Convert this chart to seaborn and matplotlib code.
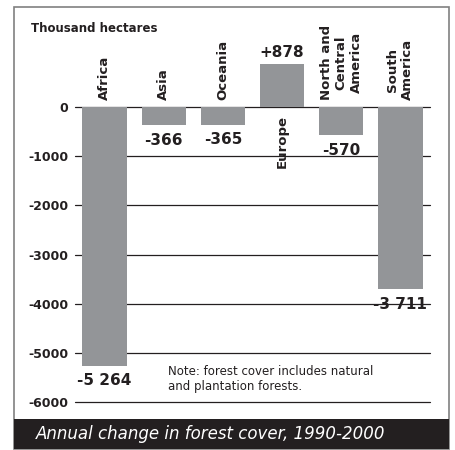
import matplotlib
matplotlib.use("Agg")
import matplotlib.pyplot as plt
import seaborn as sns
import pandas as pd

regions = ["Africa", "Asia", "Oceania", "Europe", "North and\nCentral\nAmerica", "South\nAmerica"]
change = [-5264, -366, -365, 878, -570, -3711]
y_ticks = [0, -1000, -2000, -3000, -4000, -5000, -6000]

df = pd.DataFrame({"region": regions, "change": change})

sns.set_theme(style="white")
plt.rcParams["font.family"] = ["DejaVu Sans"]

W, H = 455, 450
fig = plt.figure(figsize=(W / 100, H / 100), dpi=100)
ax = fig.add_axes([75 / W, 48 / H, 355 / W, 363.8 / H])

sns.barplot(data=df, x="region", y="change", color="#939598", saturation=1,
            width=0.75, linewidth=0, ax=ax, zorder=3)

ax.set_ylim(-6000, 1400)
ax.set_xlim(-0.5, 5.5)
ax.set_yticks(y_ticks)
ax.set_yticklabels([str(t) for t in y_ticks], fontsize=9, fontweight="bold", color="#231f20")
ax.tick_params(axis="y", length=0, pad=5)
ax.set_xticks([])
ax.set_xlabel("")
ax.set_ylabel("")
ax.yaxis.grid(True, color="#231f20", linewidth=0.9)
for gl in ax.get_ygridlines():
    gl.set_clip_on(False)
ax.set_axisbelow(True)
for s in ax.spines.values():
    s.set_visible(False)
ax.set_facecolor("none")

for i, (name, v) in enumerate(zip(regions, change)):
    # region names
    if v < 0:
        ax.text(i, 140, name, rotation=90, ha="center", va="bottom",
                fontsize=9.5, fontweight="bold", color="#231f20")
    else:
        ax.text(i, -160, name, rotation=90, ha="center", va="top",
                fontsize=9.5, fontweight="bold", color="#231f20", zorder=4)
    # values
    lab = f"{v:+,}".replace(",", " ")
    if v < 0:
        ax.annotate(lab, (i, v), xytext=(0, -15), textcoords="offset pixels",
                    ha="center", va="center", fontsize=11, fontweight="bold", color="#231f20")
    else:
        ax.annotate(lab, (i, v), xytext=(0, 4), textcoords="offset pixels",
                    ha="center", va="bottom", fontsize=11, fontweight="bold", color="#231f20")

fig.text(31 / W, (H - 29) / H, "Thousand hectares", fontsize=8.5, fontweight="bold",
         color="#231f20", va="center", ha="left")
fig.text(168 / W, (H - 379) / H, "Note: forest cover includes natural\nand plantation forests.",
         fontsize=8.5, color="#231f20", va="center", ha="left")

# frame and title band
fig.add_artist(plt.Rectangle((14 / W, 1 / H), 435 / W, 442 / H, transform=fig.transFigure,
                             fill=False, edgecolor="#808080", linewidth=1.2))
fig.add_artist(plt.Rectangle((14 / W, 1 / H), 435 / W, 30 / H, transform=fig.transFigure,
                             facecolor="#231f20", edgecolor="none"))
fig.text(36 / W, (H - 434) / H, "Annual change in forest cover, 1990-2000", fontsize=12,
         style="italic", color="white", va="center", ha="left")

fig.savefig("out.png", dpi=100)
